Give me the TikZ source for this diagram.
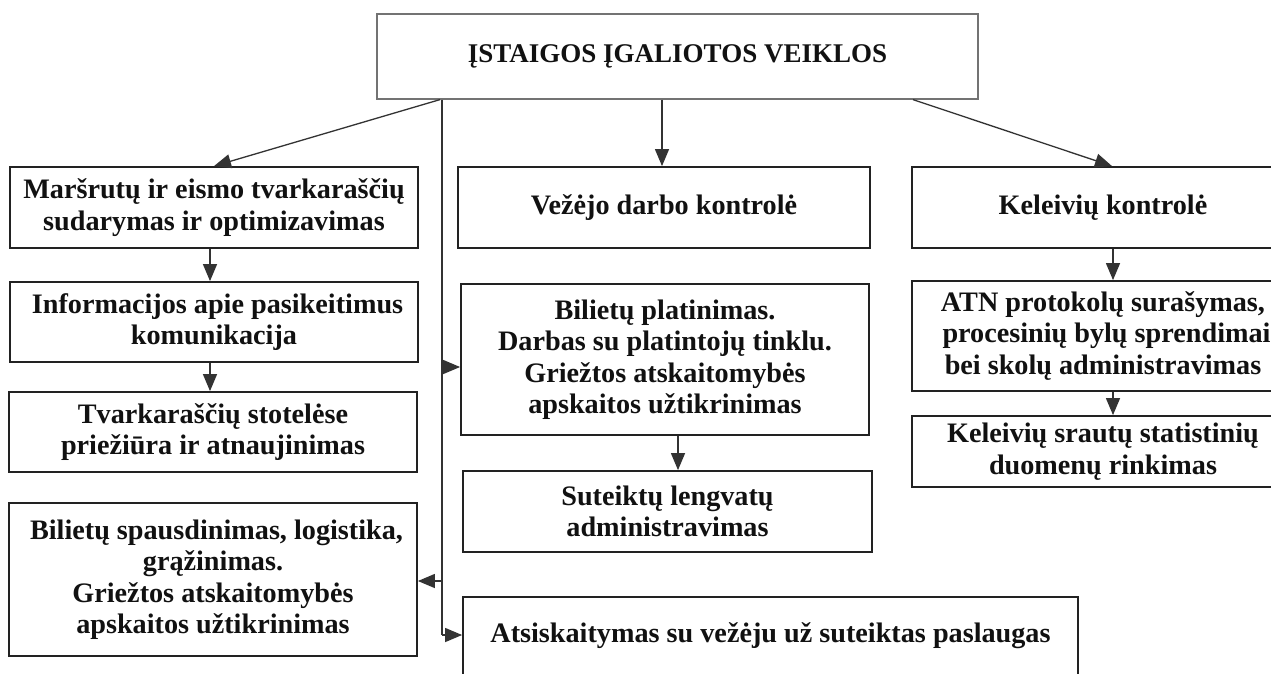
\documentclass[tikz,border=0pt]{standalone}
\usepackage{fontspec}
\setmainfont{Liberation Serif}
\usetikzlibrary{arrows.meta}
\definecolor{linec}{HTML}{333333}
\definecolor{boxc}{HTML}{222222}
\definecolor{txtc}{HTML}{111111}
\tikzset{
  box/.style={draw=boxc, line width=1.8pt, fill=white, align=center, inner sep=0pt,
    text=txtc, font=\bfseries\fontsize{28.2}{31.5}\selectfont},
  topbox/.style={draw=black!55, line width=1.2pt, fill=white, align=center, inner sep=0pt,
    text=txtc, font=\bfseries\fontsize{27}{32}\selectfont},
  conn/.style={draw=linec, line width=1.3pt, -{Triangle[length=17pt,width=14pt]}},
  plain/.style={draw=linec, line width=1.3pt}
}
\begin{document}
\begin{tikzpicture}[x=1pt,y=-1pt]
\useasboundingbox (0,0) rectangle (1271,673);
\fill[white] (0,0) rectangle (1271,673);
\clip (0,0) rectangle (1271,673);
% top
\node[topbox, minimum width=601pt, minimum height=85pt] (top) at (677.5,56.5) {ĮSTAIGOS ĮGALIOTOS VEIKLOS};
% left column
\node[box, minimum width=408pt, minimum height=81pt] (m1) at (214,207.5) {Maršrutų ir eismo tvarkaraščių\\sudarymas ir optimizavimas};
\node[box, minimum width=408pt, minimum height=80pt] (m2) at (214,322) {\ Informacijos apie pasikeitimus\\komunikacija};
\node[box, minimum width=408pt, minimum height=80pt] (m3) at (213,432) {Tvarkaraščių stotelėse\\priežiūra ir atnaujinimas};
\node[box, minimum width=408pt, minimum height=153pt] (m4) at (213,579.5) {\ Bilietų spausdinimas, logistika,\\grąžinimas.\\Griežtos atskaitomybės\\apskaitos užtikrinimas};
% center column
\node[box, minimum width=412pt, minimum height=81pt] (c1) at (664,207.5) {Vežėjo darbo kontrolė};
\node[box, minimum width=408pt, minimum height=151pt] (c2) at (665,359.5) {Bilietų platinimas.\\Darbas su platintojų tinklu.\\Griežtos atskaitomybės\\apskaitos užtikrinimas};
\node[box, minimum width=409pt, minimum height=81pt] (c3) at (667.5,511.5) {Suteiktų lengvatų\\administravimas};
\node[box, minimum width=615pt, minimum height=78pt] (c4) at (770.5,636) {Atsiskaitymas su vežėju už suteiktas paslaugas};
% right column
\node[box, minimum width=382pt, minimum height=81pt] (r1) at (1103,207.5) {Keleivių kontrolė};
\node[box, minimum width=382pt, minimum height=110pt] (r2) at (1103,336) {ATN protokolų surašymas,\\\ procesinių bylų sprendimai\\bei skolų administravimas};
\node[box, minimum width=382pt, minimum height=71pt] (r3) at (1103,451.5) {Keleivių srautų statistinių\\duomenų rinkimas};
% trunk coordinates
\coordinate (tr) at (442,99);
\coordinate (j1) at (442,367);
\coordinate (j2) at (442,581);
\coordinate (j3) at (442,635);
% connectors from top
\draw[conn] (top.south -| tr) ++(-2,0) -- (m1.north);
\draw[conn] (top.south -| c1.north) ++(-2,0) -- ([xshift=-2pt]c1.north);
\draw[conn] ([xshift=235.5pt]top.south) -- ([xshift=9pt]r1.north);
\draw[plain] (top.south -| tr) -- (j3);
\draw[conn] (j1) -- (j1 -| c2.west);
\draw[conn] (j2) -- (j2 -| m4.east);
\draw[conn] (j3) -- (j3 -| c4.west);
% within columns
\draw[conn] ([xshift=-4pt]m1.south) -- ([xshift=-4pt]m2.north);
\draw[conn] ([xshift=-4pt]m2.south) -- ([xshift=-3pt]m3.north);
\draw[conn] ([xshift=13pt]c2.south) -- ([xshift=10.5pt]c3.north);
\draw[conn] ([xshift=10pt]r1.south) -- ([xshift=10pt]r2.north);
\draw[conn] ([xshift=10pt]r2.south) -- ([xshift=10pt]r3.north);
\end{tikzpicture}
\end{document}
